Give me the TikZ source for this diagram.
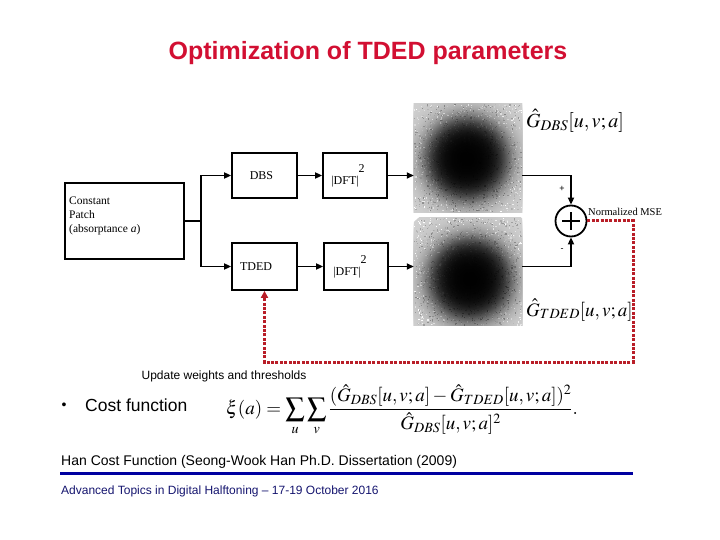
\documentclass[tikz,border=0pt]{standalone}
\usepackage{mathptmx}
\usepackage{fontspec}
\setmainfont{Liberation Serif}
\newfontfamily\arial{Liberation Sans}
\usetikzlibrary{arrows.meta}
\definecolor{titlered}{RGB}{210,15,50}
\definecolor{fbred}{RGB}{185,30,40}
\definecolor{navy}{RGB}{0,0,160}
\definecolor{footnavy}{RGB}{20,20,110}
\newcommand\speckblob[4]{% #1 node, #2 cx, #3 cy, #4 top y
\begin{scope}
\clip (#1.south west) rectangle (#1.north east);
\foreach \r in {80,79,...,1}{\pgfmathsetmacro\g{18+82/(1+exp((\r-42)/7))}\fill[black!\g] (#2,#3) circle[radius=\r];}
\foreach \i in {1,...,1600}{\pgfmathsetmacro\px{414+rnd*107}\pgfmathsetmacro\py{#4+rnd*107}%
\pgfmathsetmacro\dd{veclen(\px-#2,\py-#3)}%
\pgfmathsetmacro\gl{18+82/(1+exp((\dd-42)/7))}%
\pgfmathsetmacro\gg{min(100,max(0,\gl+(rnd-0.5)*50*(100-\gl)/82))}%
\fill[black!\gg] (\px,\py) rectangle ++(1.2,1.2);}
\end{scope}}
\begin{document}
\begin{tikzpicture}[x=1pt,y=-1pt,
 box/.style={draw,line width=1.8pt,inner sep=0pt,font=\fontsize{12}{14}\selectfont},
 conn/.style={line width=1.8pt,-{Triangle[length=7pt,width=6pt]}},
 fb/.style={draw=fbred,line width=3pt,dash pattern=on 3pt off 1.4pt},
 img/.style={inner sep=0pt,minimum width=108pt,minimum height=108pt},
 sans/.style={font=\arial\fontsize{#1}{#1}\selectfont}]
\useasboundingbox (0,0) rectangle (720,540);
\pgfmathsetseed{7}

\node[font=\arial\bfseries\fontsize{25}{28}\selectfont, text=titlered] (title) at (368,53) {Optimization of TDED parameters};

\node[box,minimum width=119pt,minimum height=76pt] (patch) at (124.5,221) {};
\node[anchor=north west,align=left,font=\fontsize{11.5}{13.8}\selectfont,inner sep=0pt] (patchtxt) at (69,197) {Constant\\Patch\\(absorptance \textit{a})};

\node[box,minimum width=65pt,minimum height=45pt] (dbs) at (264.5,175.5) {DBS\rule{6pt}{0pt}};
\node[box,minimum width=64pt,minimum height=45pt] (dft1) at (355,175.5) {|DFT|\raisebox{12pt}{2}\rule{14pt}{0pt}};
\node[box,minimum width=65pt,minimum height=47pt] (tded) at (264.5,266.5) {TDED\rule{17pt}{0pt}};
\node[box,minimum width=64pt,minimum height=47pt] (dft2) at (356,266.5) {|DFT|\raisebox{12pt}{2}\rule{12pt}{0pt}};

\node[img] (imgA) at (468,158) {};
\node[img] (imgB) at (468,271.5) {};
\speckblob{imgA}{467}{159}{104}
\speckblob{imgB}{470}{279}{217.5}

\node[draw,circle,line width=1.8pt,minimum size=31pt,inner sep=0pt] (sum) at (571,221) {};
\draw[line width=1.3pt] ([xshift=-9pt]sum.center) -- ([xshift=9pt]sum.center)
  ([yshift=-9pt]sum.center) -- ([yshift=9pt]sum.center);

\coordinate (split) at (201,221);
\draw[line width=1.8pt] (patch.east) -- (split);
\draw[conn] (split) |- (dbs.west);
\draw[conn] (split) |- (tded.west);
\draw[conn] (dbs) -- (dft1);
\draw[conn] (tded) -- (dft2);
\draw[conn] (dft1.east) -- (dft1.east -| imgA.west);
\draw[conn] (dft2.east) -- (dft2.east -| imgB.west);
\draw[conn] (imgA.east |- dft1) -| (sum.north);
\draw[conn] (imgB.east |- dft2) -| (sum.south);

\coordinate (fbc) at (633,362);
\draw[fb,-{Triangle[length=7pt,width=7pt]}] (sum.east) -| (fbc) -| (tded.south);

\node[sans=9] (plus) at (562,189) {+};
\node[sans=9] (minus) at (562,250) {-};
\node[anchor=west,font=\fontsize{10.5}{12}\selectfont,inner sep=0pt] (mse) at (588,212) {Normalized MSE};

\node[anchor=west,inner sep=0pt,font=\fontsize{20}{22}\selectfont] (gA) at (526,121) {$\hat{G}_{DBS}[u,v;a]$};
\node[anchor=west,inner sep=0pt,font=\fontsize{19}{22}\selectfont] (gB) at (526,310) {$\hat{G}_{TDED}[u,v;a]$};

\node[sans=12] (upd) at (224,376) {Update weights and thresholds};
\node[sans=14] (bullet) at (64,406) {\textbullet};
\node[anchor=west,inner sep=0pt,sans=17.5] (cost) at (85,405) {Cost function};
\node[anchor=west,inner sep=0pt,font=\fontsize{19}{21}\selectfont] (formula) at (226,410)
 {$\displaystyle \xi(a)=\sum_{u}\sum_{v}\frac{(\hat{G}_{DBS}[u,v;a]-\hat{G}_{TDED}[u,v;a])^2}{\hat{G}_{DBS}[u,v;a]^2}.$};

\node[anchor=west,inner sep=0pt,sans=14] (han) at (61,462) {Han Cost Function (Seong-Wook Han Ph.D. Dissertation (2009)};
\draw[navy,line width=3pt] (60,473) -- (633,473);
\node[anchor=west,inner sep=0pt,sans=12,text=footnavy] (foot) at (61,491) {Advanced Topics in Digital Halftoning – 17-19 October 2016};
\end{tikzpicture}
\end{document}
